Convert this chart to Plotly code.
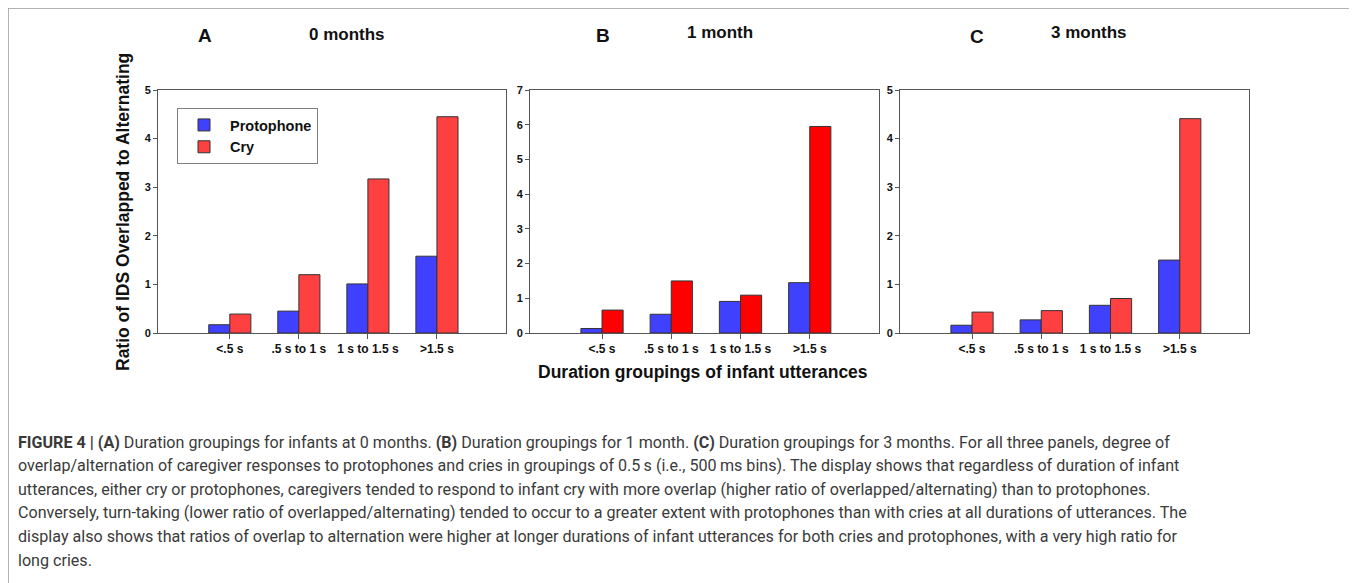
import plotly.graph_objects as go

OFF = 8  # page body margin in the browser
W, H = 1357 - OFF, 583 - OFF

categories = ["<.5 s", ".5 s to 1 s", "1 s to 1.5 s", ">1.5 s"]

protophone_0m = [0.17, 0.45, 1.01, 1.58]
cry_0m = [0.39, 1.20, 3.17, 4.45]

protophone_1m = [0.13, 0.54, 0.91, 1.45]
cry_1m = [0.66, 1.50, 1.09, 5.95]

protophone_3m = [0.16, 0.27, 0.57, 1.50]
cry_3m = [0.43, 0.46, 0.71, 4.41]

y_max = [5, 7, 5]

def px_x(v):
    return (v - OFF) / W

def px_y(v):
    return 1 - (v - OFF) / H

BLUE = "#4040FF"
RED_SOFT = "#FF4040"
RED_PURE = "#FF0000"
EDGE = "#333333"
FONT = "Arial, Liberation Sans, sans-serif"

fig = go.Figure()

panels = [
    (protophone_0m, cry_0m, RED_SOFT, "x", "y"),
    (protophone_1m, cry_1m, RED_PURE, "x2", "y2"),
    (protophone_3m, cry_3m, RED_SOFT, "x3", "y3"),
]
for i, (p, c, red, xa, ya) in enumerate(panels):
    fig.add_trace(go.Bar(x=categories, y=p, name="Protophone", marker=dict(color=BLUE, line=dict(color=EDGE, width=1)),
                         xaxis=xa, yaxis=ya, showlegend=(i == 0), legendgroup="p"))
    fig.add_trace(go.Bar(x=categories, y=c, name="Cry", marker=dict(color=red, line=dict(color=EDGE, width=1)),
                         xaxis=xa, yaxis=ya, showlegend=(i == 0), legendgroup="c"))

domains_x = [(158, 506), (530, 879), (900, 1249)]
dom_y = [px_y(333), px_y(90)]

layout = dict(
    width=W, height=H,
    margin=dict(l=0, r=0, t=0, b=0),
    paper_bgcolor="white", plot_bgcolor="white",
    barmode="group", bargap=0.39, bargroupgap=0,
    font=dict(family=FONT, color="#111111"),
    legend=dict(x=px_x(177), y=px_y(108), xanchor="left", yanchor="top",
                bordercolor="#808080", borderwidth=1, bgcolor="white",
                font=dict(family=FONT, size=14.5, color="#111111", weight="bold"),
                tracegroupgap=0, itemwidth=42, entrywidth=116),
)
for i, (x0, x1) in enumerate(domains_x):
    sfx = "" if i == 0 else str(i + 1)
    layout["xaxis" + sfx] = dict(
        domain=[px_x(x0), px_x(x1)], anchor="y" + sfx,
        range=[-1.04, 4.0], showline=True, linecolor="#555555", linewidth=1, mirror=True,
        ticks="outside", ticklen=5, tickcolor="#555555", showgrid=False, zeroline=False,
        tickfont=dict(family=FONT, size=12, weight="bold", color="#111111"), automargin=False,
        fixedrange=True,
    )
    layout["yaxis" + sfx] = dict(
        domain=dom_y, anchor="x" + sfx,
        range=[0, y_max[i]], dtick=1, showline=True, linecolor="#555555", linewidth=1, mirror=True,
        ticks="outside", ticklen=4, tickcolor="#555555", showgrid=False, zeroline=False,
        tickfont=dict(family=FONT, size=11, weight="bold", color="#111111"), automargin=False,
    )
fig.update_layout(**layout)

annots = []
for letter, lx, ly in [("A", 205, 36), ("B", 603, 36), ("C", 977, 37)]:
    annots.append(dict(text=f"<b>{letter}</b>", x=px_x(lx), y=px_y(ly), xref="paper", yref="paper",
                       showarrow=False, font=dict(family=FONT, size=19, color="#111111"),
                       xanchor="center", yanchor="middle"))
for title, tx, ty in [("0 months", 347, 34), ("1 month", 720, 33), ("3 months", 1089, 33)]:
    annots.append(dict(text=f"<b>{title}</b>", x=px_x(tx), y=px_y(ty), xref="paper", yref="paper",
                       showarrow=False, font=dict(family=FONT, size=17, color="#111111"),
                       xanchor="center", yanchor="middle"))
annots.append(dict(text="<b>Ratio of IDS Overlapped to Alternating</b>", x=px_x(123), y=px_y(212),
                   xref="paper", yref="paper", showarrow=False, textangle=-90,
                   font=dict(family=FONT, size=17.5, color="#111111"), xanchor="center", yanchor="middle"))
annots.append(dict(text="<b>Duration groupings of infant utterances</b>", x=px_x(703), y=px_y(372),
                   xref="paper", yref="paper", showarrow=False,
                   font=dict(family=FONT, size=17.5, color="#111111"), xanchor="center", yanchor="middle"))

caption_lines = [
    "<b>FIGURE 4 | (A)</b> Duration groupings for infants at 0 months. <b>(B)</b> Duration groupings for 1 month. <b>(C)</b> Duration groupings for 3 months. For all three panels, degree of",
    "overlap/alternation of caregiver responses to protophones and cries in groupings of 0.5\u2009s (i.e., 500\u2009ms bins). The display shows that regardless of duration of infant",
    "utterances, either cry or protophones, caregivers tended to respond to infant cry with more overlap (higher ratio of overlapped/alternating) than to protophones.",
    "Conversely, turn-taking (lower ratio of overlapped/alternating) tended to occur to a greater extent with protophones than with cries at all durations of utterances. The",
    "display also shows that ratios of overlap to alternation were higher at longer durations of infant utterances for both cries and protophones, with a very high ratio for",
    "long cries.",
]
CAP_FONT = "Roboto, sans-serif"
for k, line in enumerate(caption_lines):
    annots.append(dict(text=line, x=px_x(16), y=px_y(442 + 23.6 * k), xref="paper", yref="paper",
                       showarrow=False, xanchor="left", yanchor="middle", align="left",
                       font=dict(family=CAP_FONT, size=16.1, color="#3a3a3a")))
fig.update_layout(annotations=annots)

fig.add_shape(type="rect", xref="paper", yref="paper", x0=px_x(8), x1=px_x(1355), y0=-0.05, y1=px_y(8),
              line=dict(color="#999999", width=1.5), fillcolor="rgba(0,0,0,0)", layer="below")

fig.write_html("out.html")
